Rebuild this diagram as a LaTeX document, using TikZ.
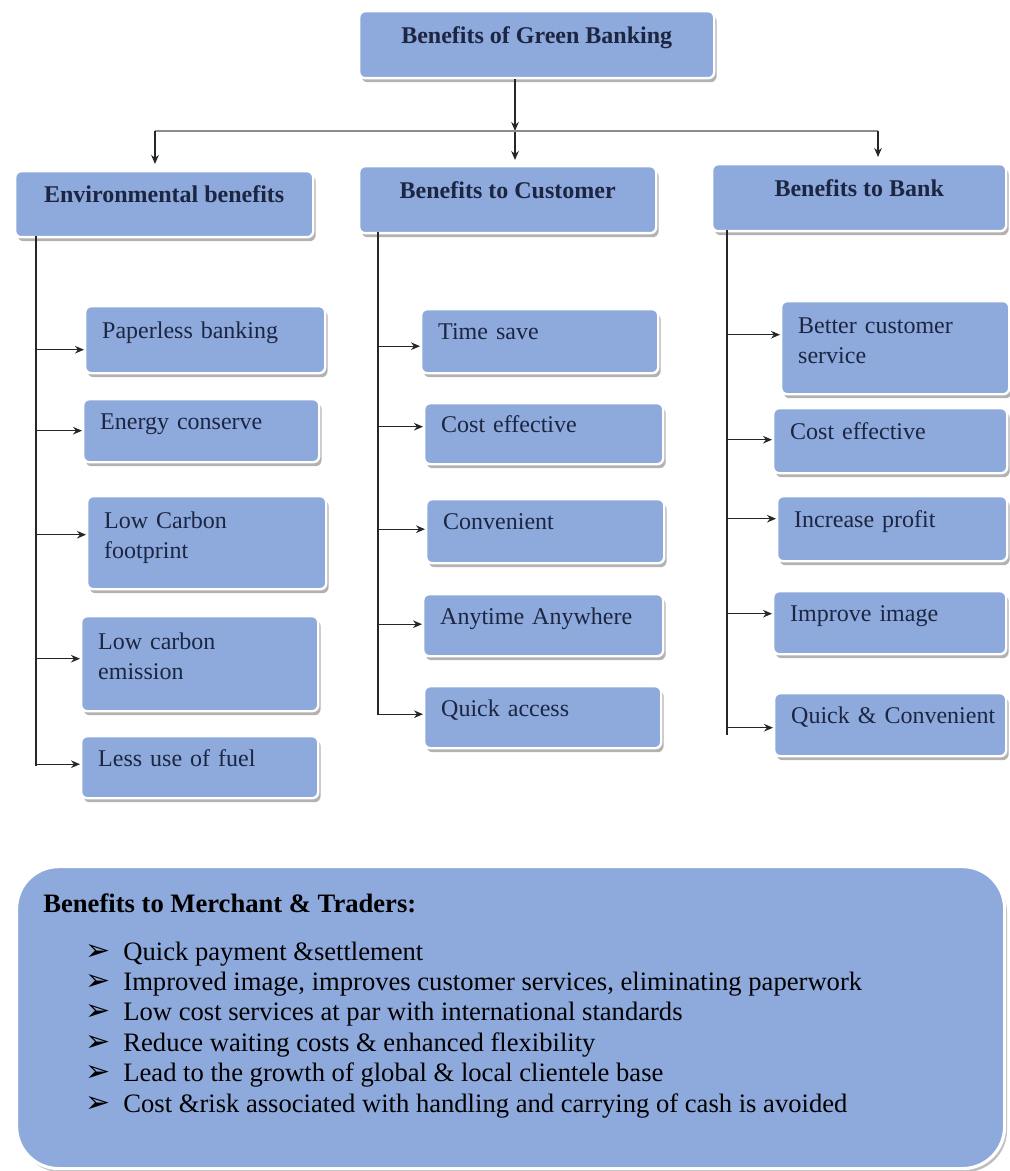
\documentclass[tikz,border=0pt]{standalone}
\usepackage{fontspec}
\setmainfont{Liberation Serif}
\newfontfamily\dingfont{DejaVu Sans}
\usetikzlibrary{arrows.meta,shadows,calc}

\definecolor{boxblue}{RGB}{142,169,219}
\definecolor{boxtext}{RGB}{28,38,66}

\tikzset{
  box/.style={rectangle, rounded corners=3pt, fill=boxblue, draw=white, line width=1.2pt,
    drop shadow={shadow xshift=1.2pt, shadow yshift=-2pt, fill=black!60},
    text=boxtext, anchor=north west, inner xsep=8.5pt, inner ysep=0pt},
  head/.style 2 args={box, font=\fontsize{12}{14}\selectfont\bfseries,
    minimum width=#1*0.5pt, minimum height=#2*0.5pt, text depth=10pt},
  leaf/.style 2 args={box, font=\fontsize{12}{15}\selectfont, align=left,
    text width=#1*0.5pt-17pt, minimum height=#2*0.5pt, text depth=9.5pt},
  twoline/.style={text depth=22.5pt},
  merch/.style={rectangle, rounded corners=21pt, fill=boxblue, draw=white, line width=1.6pt,
    drop shadow={shadow xshift=1.2pt, shadow yshift=-1.8pt, fill=black!50},
    anchor=north west, inner sep=0pt, minimum width=494pt, minimum height=151pt},
  mitem/.style={anchor=base west, font=\fontsize{13.3}{15.2}\selectfont, inner sep=0pt},
  link/.style={line width=0.6pt, black!85},
  arr/.style={link, -{Stealth[length=4.5pt,width=3.8pt]}},
}
\newcommand{\arrowbullet}{\makebox[19pt][l]{\dingfont\fontsize{15}{15}\selectfont ➢}}

\begin{document}
\begin{tikzpicture}[x=0.5pt, y=-0.5pt]
  \useasboundingbox (0,0) rectangle (1009,1171);

  % headers
  \node[head={355}{67}] (root) at (358,10) {Benefits of Green Banking};
  \node[head={298}{66}] (env) at (14,170) {Environmental benefits};
  \node[head={297}{67}] (cust) at (358,165) {Benefits to Customer};
  \node[head={294}{67}] (bank) at (711,163) {Benefits to Bank};

  % environmental
  \node[leaf={240}{67}] (pb) at (84,305) {Paperless banking};
  \node[leaf={236}{63}] (ec) at (82,398) {Energy conserve};
  \node[leaf={239}{93}, twoline] (lcf) at (86,495) {Low Carbon\\footprint};
  \node[leaf={237}{95}, twoline] (lce) at (80,615) {Low carbon\\emission};
  \node[leaf={237}{62}] (luf) at (80,735) {Less use of fuel};

  % customer
  \node[leaf={237}{64}] (ts) at (420,308) {Time save};
  \node[leaf={239}{61}] (cce) at (423,402) {Cost effective};
  \node[leaf={238}{64}] (cv) at (425,498) {Convenient};
  \node[leaf={240}{62}] (aa) at (422,593) {\mbox{Anytime Anywhere}};
  \node[leaf={237}{62}] (qa) at (423,685) {Quick access};

  % bank
  \node[leaf={228}{93}, twoline] (bcs) at (780,300) {Better customer\\service};
  \node[leaf={234}{65}] (bce) at (772,407) {Cost effective};
  \node[leaf={230}{65}] (ip) at (776,495) {Increase profit};
  \node[leaf={233}{63}] (ii) at (772,590) {Improve image};
  \node[leaf={232}{63}] (qc) at (773,692) {\mbox{Quick \& Convenient}};

  % top connectors
  \coordinate (hub) at (515,131);
  \coordinate (hl) at (155,131);
  \coordinate (hr) at (878,131);
  \draw[arr] (root.south -| hub) -- (hub);
  \draw[arr, shorten >=2.5pt] (hub) -- (hub |- cust.north);
  \draw[link, black!45, line width=1pt] (hl) -- (hr);
  \draw[arr, shorten >=3pt] (hl) -- (hl |- env.north);
  \draw[arr, shorten >=3pt] (hr) -- (hr |- bank.north);

  % trunks
  \coordinate (envtop) at (36,236);
  \coordinate (envend) at (36,766);
  \coordinate (custtop) at (378,232);
  \coordinate (custend) at (378,715);
  \coordinate (banktop) at (727,230);
  \coordinate (bankend) at (727,735);
  \draw[link] (envtop) -- (envend);
  \draw[link] (custtop) -- (custend);
  \draw[link] (banktop) -- (bankend);

  \foreach \n/\d in {pb/10,ec/0,lcf/-8,lce/-5,luf/-3}
    \draw[arr] ($(envtop |- \n.west)+(0,\d)$) -- ($(\n.west)+(0,\d)$);
  \foreach \n/\d in {ts/5,cce/-7,cv/-2,aa/-1,qa/-3}
    \draw[arr] ($(custtop |- \n.west)+(0,\d)$) -- ($(\n.west)+(0,\d)$);
  \foreach \n/\d in {bcs/-13,bce/-1,ip/-10,ii/-9,qc/3}
    \draw[arr] ($(banktop |- \n.west)+(0,\d)$) -- ($(\n.west)+(0,\d)$);

  % merchants and traders
  \node[merch] (mbox) at (15,865) {};
  \node[anchor=base west, inner sep=0pt, font=\fontsize{13.3}{15.2}\selectfont\bfseries] (mtitle) at (43,912) {Benefits to Merchant \& Traders:};
  \foreach \t [count=\i] in {Quick payment \&settlement,
      {Improved image, improves customer services, eliminating paperwork},
      Low cost services at par with international standards,
      Reduce waiting costs \& enhanced flexibility,
      Lead to the growth of global \& local clientele base,
      Cost \&risk associated with handling and carrying of cash is avoided}
    \node[mitem] (m\i) at (85,{960+30.4*(\i-1)}) {\arrowbullet\t};

\end{tikzpicture}
\end{document}
